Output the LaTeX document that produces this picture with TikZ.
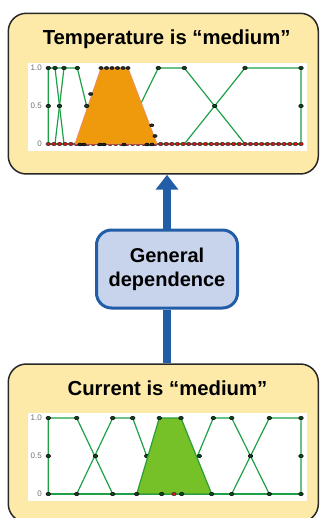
\documentclass[tikz,border=0pt]{standalone}
\usepackage{fontspec}
\setmainfont{Liberation Sans}
\usetikzlibrary{arrows.meta}
\definecolor{boxfill}{RGB}{253,234,168}
\definecolor{boxline}{RGB}{40,40,40}
\definecolor{arrblue}{RGB}{34,94,168}
\definecolor{midfill}{RGB}{200,211,236}
\definecolor{lgreen}{RGB}{30,160,70}
\definecolor{dgreen}{RGB}{12,70,32}
\definecolor{orangef}{RGB}{239,154,12}
\definecolor{oranged}{RGB}{236,140,100}
\definecolor{trapg}{RGB}{118,192,40}
\definecolor{trapgd}{RGB}{42,158,58}
\definecolor{dotred}{RGB}{210,20,20}
\tikzset{
  ybox/.style={draw=boxline, line width=1.5pt, fill=boxfill, rounded corners=18pt, inner sep=0pt},
  ttl/.style={font=\bfseries\fontsize{20.3}{24}\selectfont, anchor=base, inner sep=0pt},
  midbox/.style={draw=arrblue, line width=3pt, fill=midfill, rounded corners=15pt, align=center,
     font=\bfseries\fontsize{20}{24.3}\selectfont, minimum width=141pt, minimum height=78pt, inner sep=0pt},
  mf/.style={draw=lgreen, line width=1.2pt},
  gdot/.style={fill=dgreen, draw=black, line width=0.5pt},
  kdot/.style={fill=black!85, draw=black, line width=0.4pt},
  rdot/.style={fill=dotred, draw=black!80, line width=0.5pt},
  axlbl/.style={font=\fontsize{8}{9}\selectfont, text=black!55, anchor=east, inner sep=0pt},
  bigarrow/.style={draw=arrblue, line width=8pt}
}
\begin{document}
\begin{tikzpicture}[x=1pt,y=-1pt]
\useasboundingbox (0,0) rectangle (320,518);
% boxes
\node[ybox, minimum width=310pt, minimum height=160.7pt] (tbox) at (163.3,93.65) {};
\node[ybox, minimum width=310pt, minimum height=158pt] (bbox) at (163.3,443) {};
\node[ttl] (ttitle) at (166.7,45) {Temperature is “medium”};
\node[ttl] (btitle) at (167.5,395) {Current is “medium”};
% middle node and arrow
\node[midbox] (mid) at (167,269) {General\\dependence};
\draw[bigarrow, -{Triangle[width=22pt,length=15pt]}] (mid.north) -- (mid.north |- tbox.south);
\draw[bigarrow] (mid.south) -- (mid.south |- bbox.north);

% ---------- top chart ----------
\fill[white] (28.3,63.3) rectangle (306.7,150.7);
\node[axlbl] (t10) at (42,68) {1.0};
\node[axlbl] (t05) at (42,106) {0.5};
\node[axlbl] (t00) at (42,144) {0};
\draw[mf] (48.3,144) -- (301,144);
\draw[mf] (48.3,144) -- (48.3,68) -- (77.3,68) -- (96,144);
\draw[mf] (55,68) -- (64,144);
\draw[mf] (64,68) -- (55,144);
\draw[mf] (121,144) -- (158.3,68) -- (184.3,68) -- (245,144);
\draw[mf] (184.3,144) -- (245,68) -- (301,68) -- (301,144);
\foreach \i in {0,...,45} \draw[rdot] ({48.3+\i*5.616},144) ellipse [x radius=2.3pt, y radius=1.7pt];
\filldraw[fill=orangef, draw=oranged, line width=0.8pt] (75,144) -- (101,68) -- (128,68) -- (157,144) -- cycle;
\foreach \x/\y in {101/68,106.5/68,112/68,117.5/68,123/68,128/68,90.7/94,151.7/125.3,155/136,80/144.5,84/144.5,100/144.5,104/144.5,124/144.5,147/144.5,152/144.5}
  \draw[kdot] (\x,\y) ellipse [x radius=2.2pt, y radius=1.5pt];
\foreach \x/\y in {48.3/68,55/68,64/68,77.3/68,158.3/68,184.3/68,245/68,301/68,48.3/106,59.5/106,86.7/106,214.7/106,301/106}
  \draw[gdot] (\x,\y) ellipse [x radius=2.3pt, y radius=1.7pt];

% ---------- bottom chart ----------
\fill[white] (28.3,413.3) rectangle (306.7,500.5);
\node[axlbl] (b10) at (42,418) {1.0};
\node[axlbl] (b05) at (42,456) {0.5};
\node[axlbl] (b00) at (42,494) {0};
\draw[mf] (48.3,494) -- (301,494);
\draw[mf] (48.3,494) -- (48.3,418) -- (76.7,418) -- (112.7,494);
\draw[mf] (76.7,494) -- (112.7,418) -- (132.7,418) -- (160.7,494);
\draw[mf] (181.7,494) -- (213.3,418) -- (231.7,418) -- (269.3,494);
\draw[mf] (231.7,494) -- (269.3,418) -- (301,418) -- (301,494);
\foreach \x/\y in {146.7/456,199.3/456}
  \draw[gdot] (\x,\y) ellipse [x radius=2.3pt, y radius=1.7pt];
\filldraw[fill=trapg, draw=trapgd, line width=1.2pt] (136.7,494) -- (159.3,418) -- (181,418) -- (211.7,494) -- cycle;
\draw[rdot] (174,494) ellipse [x radius=2.3pt, y radius=1.7pt];
\foreach \x in {48.3,76.7,112.7,132.7,159.3,181,213.3,231.7,269.3,301}
  \draw[gdot] (\x,418) ellipse [x radius=2.3pt, y radius=1.7pt];
\foreach \x in {48.3,76.7,112.7,136.7,161.7,181.7,211.7,231.7,269.3,301}
  \draw[gdot] (\x,494) ellipse [x radius=2.3pt, y radius=1.7pt];
\foreach \x in {48.3,95.5,250.5,301}
  \draw[gdot] (\x,456) ellipse [x radius=2.3pt, y radius=1.7pt];
\end{tikzpicture}
\end{document}
